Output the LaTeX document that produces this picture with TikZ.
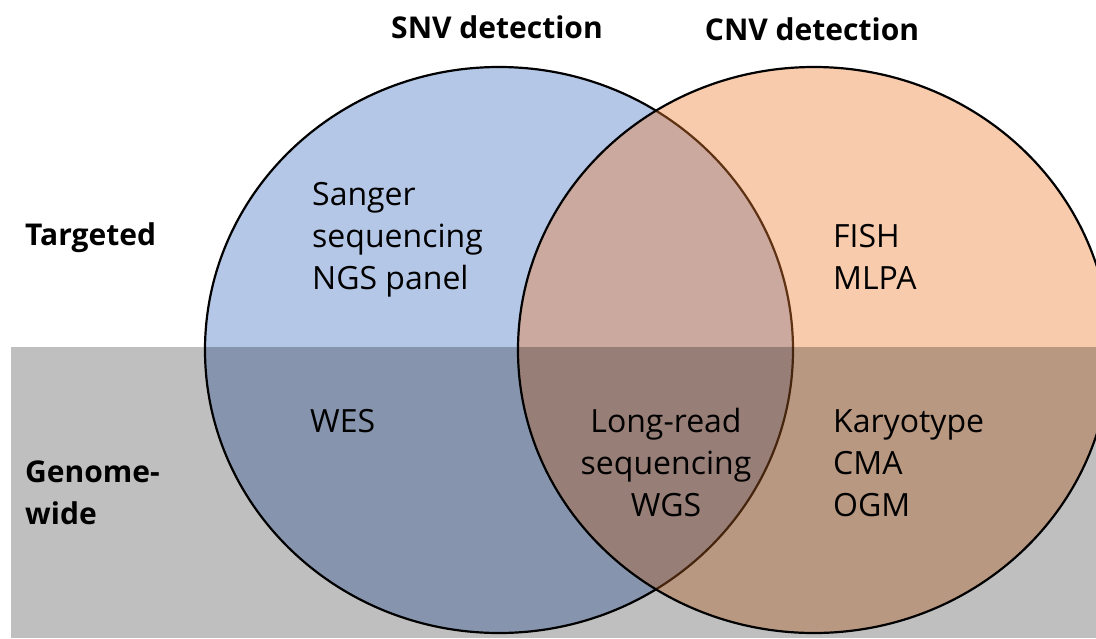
\documentclass[tikz,border=0pt]{standalone}
\usepackage{fontspec}
\setmainfont{Open Sans}
\usetikzlibrary{positioning}

\definecolor{snvblue}{HTML}{4472C4}
\definecolor{cnvorange}{HTML}{ED7D31}

\begin{document}
\begin{tikzpicture}[
    x=1pt, y=-1pt, % one unit per pixel, y running down
    setcircle/.style={draw=black, line width=2.2pt, fill opacity=0.4}, % Venn sets
    method/.style={font=\fontsize{32}{42}\selectfont, align=left, inner sep=0pt},
    heading/.style={font=\fontsize{30}{42}\selectfont\bfseries, inner sep=0pt, align=left}
]
    \useasboundingbox (0,0) rectangle (1096,638);

    % --- Definitions ---
    \coordinate (snvc) at (499,350); % centre of SNV set
    \coordinate (cnvc) at (814,350); % centre of CNV set

    % --- Sets ---
    \draw[setcircle, fill=snvblue] (snvc) ellipse [x radius=294pt, y radius=283pt];
    \draw[setcircle, fill=cnvorange] (cnvc) ellipse [x radius=296pt, y radius=283pt];

    % Genome-wide band laid over the lower half
    \fill[black, fill opacity=0.25] (11,347) rectangle (1096,638);

    % --- Headings ---
    % (base of a multi-line node sits on its last line)
    \node[heading, anchor=base] (snv) at (497,38) {SNV detection};
    \node[heading, anchor=base] (cnv) at (812,40) {CNV detection};
    \node[heading, anchor=base west] (targeted) at (25,245) {Targeted};
    \node[heading, anchor=base west] (genome) at (25,524) {Genome-\\wide};

    % --- Methods ---
    \node[method, anchor=base west] (sanger) at (312,289) {Sanger\\sequencing\\NGS panel};
    \node[method, anchor=base west] (fish) at (833,289) {FISH\\MLPA};
    \node[method, anchor=base west] (wes) at (310,432) {WES};
    \node[method, align=center, anchor=base] (longread) at (666,516) {Long-read\\sequencing\\WGS};
    \node[method, anchor=base west] (karyo) at (833,516) {Karyotype\\CMA\\OGM};

\end{tikzpicture}
\end{document}
